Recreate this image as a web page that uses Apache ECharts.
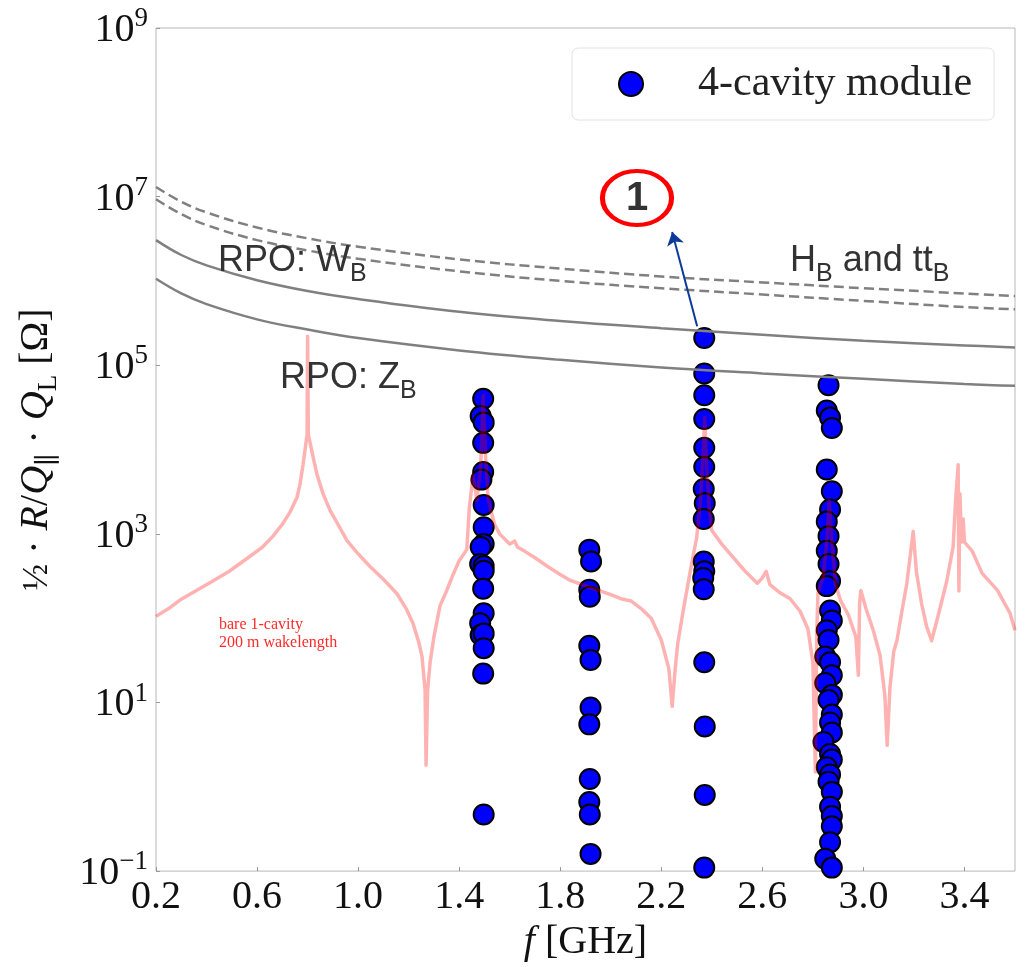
<!DOCTYPE html>
<html>
<head>
<meta charset="utf-8">
<script src="https://cdn.jsdelivr.net/npm/echarts@6/dist/echarts.min.js"></script>
<style>
  html, body { margin: 0; padding: 0; background: #ffffff; }
  #chart { width: 1025px; height: 967px; }
</style>
</head>
<body>
<div id="chart"></div>
<script>
// Axis ticks
const xTickValues = [0.2, 0.6, 1.0, 1.4, 1.8, 2.2, 2.6, 3.0, 3.4];
const yTickValues = [0.1, 10, 1e3, 1e5, 1e7, 1e9];

// 4-cavity module: HOM frequency [GHz] and 1/2 R/Q * Q_L [Ohm]
const modeFreq = [
  // ~1.5 GHz band
  1.495, 1.485, 1.497, 1.495, 1.495, 1.488, 1.497, 1.497, 1.497, 1.485, 1.483,
  1.497, 1.497, 1.495, 1.497, 1.483, 1.485, 1.497, 1.497, 1.495, 1.497,
  // ~1.92 GHz band
  1.915, 1.922, 1.915, 1.917, 1.915, 1.920, 1.920, 1.915, 1.917, 1.915, 1.917, 1.920,
  // ~2.37 GHz band
  2.370, 2.370, 2.370, 2.370, 2.370, 2.370, 2.368, 2.372, 2.368, 2.368, 2.370,
  2.366, 2.368, 2.370, 2.372, 2.372, 2.370,
  // ~2.86 GHz band
  2.862, 2.855, 2.868, 2.875, 2.855, 2.875, 2.868, 2.855, 2.862, 2.855, 2.862,
  2.868, 2.855, 2.868, 2.875, 2.855, 2.862, 2.849, 2.868, 2.875, 2.849, 2.875,
  2.862, 2.875, 2.868, 2.875, 2.842, 2.868, 2.875, 2.855, 2.868, 2.862, 2.875,
  2.868, 2.875, 2.875, 2.868, 2.849, 2.875
];
const modeImpedance = [
  4.0e4, 2.5e4, 2.1e4, 1.2e4, 5.4e3, 4.4e3, 2.2e3, 1.2e3, 760, 700, 440,
  415, 365, 224, 114, 87, 63, 66, 44, 22, 0.47,
  650, 470, 218, 180, 47, 32, 8.7, 5.5, 1.24, 0.66, 0.47, 0.16,
  2.1e5, 8.0e4, 4.4e4, 2.3e4, 1.05e4, 6.2e3, 3.4e3, 2.3e3, 1.5e3, 470, 360,
  300, 220, 30, 5.2, 0.8, 0.11,
  5.8e4, 2.9e4, 2.4e4, 1.8e4, 5.8e3, 3.2e3, 1.95e3, 1.4e3, 940, 630, 440,
  275, 240, 123, 94, 72, 55, 35, 30, 21, 17, 12.3,
  10.7, 7.2, 5.8, 4.4, 3.4, 2.45, 2.1, 1.7, 1.4, 1.15, 0.87,
  0.58, 0.45, 0.34, 0.22, 0.14, 0.11
];

// Bare 1-cavity impedance, 200 m wakelength
const wakeFreq = [
  0.20, 0.25, 0.30, 0.36, 0.42, 0.49, 0.56, 0.62, 0.663, 0.70, 0.73, 0.758, 0.77,
  0.782, 0.79, 0.798, 0.80, 0.803, 0.81, 0.822, 0.837, 0.861, 0.889, 0.92, 0.956,
  1.00, 1.047, 1.10, 1.154, 1.19, 1.217, 1.24, 1.253, 1.265, 1.269, 1.275, 1.285,
  1.30, 1.324, 1.35, 1.376, 1.40, 1.43, 1.44, 1.455, 1.47, 1.485, 1.495, 1.505,
  1.515, 1.54, 1.56, 1.58, 1.60, 1.62, 1.63, 1.66, 1.70, 1.75, 1.80, 1.84, 1.93,
  2.00, 2.04, 2.08, 2.12, 2.16, 2.20, 2.23, 2.243, 2.255, 2.265, 2.29, 2.32, 2.34,
  2.355, 2.365, 2.372, 2.38, 2.39, 2.40, 2.44, 2.47, 2.53, 2.58, 2.60, 2.615, 2.63,
  2.67, 2.71, 2.75, 2.78, 2.80, 2.81, 2.815, 2.82, 2.84, 2.855, 2.865, 2.875, 2.89,
  2.91, 2.94, 2.97, 2.98, 2.985, 2.99, 3.01, 3.04, 3.066, 3.085, 3.094, 3.105, 3.12,
  3.133, 3.15, 3.172, 3.197, 3.21, 3.23, 3.25, 3.27, 3.30, 3.33, 3.355, 3.365,
  3.375, 3.378, 3.382, 3.388, 3.395, 3.40, 3.43, 3.47, 3.53, 3.58, 3.60
];
const wakeImpedance = [
  105, 130, 168, 213, 270, 360, 510, 690, 940, 1300, 1800, 2700, 3900,
  6600, 1.0e4, 1.5e4, 2.2e5, 1.5e4, 1.2e4, 8100, 5100, 3000, 1900, 1300, 830,
  580, 410, 290, 195, 130, 87, 52, 35, 14, 1.8, 14, 30,
  60, 140, 210, 330, 480, 650, 2000, 5000, 2500, 6000, 4.4e4, 8000,
  2500, 1300, 1000, 870, 760, 820, 700, 620, 520, 410, 330, 280, 225,
  190, 170, 160, 130, 100, 55, 25, 9, 25, 50, 140, 440, 900,
  2500, 8000, 2.4e4, 6000, 2000, 1100, 750, 590, 365, 260, 300, 360, 250,
  200, 170, 120, 75, 30, 1.5, 60, 200, 300, 800, 2500, 800, 250,
  160, 110, 60, 21, 150, 213, 130, 70, 36, 12, 3.1, 15, 40,
  55, 110, 260, 1070, 350, 150, 80, 54, 120, 276, 700, 2500,
  6600, 210, 3000, 800, 1500, 800, 630, 340, 215, 115, 72
];

// Beam-stability thresholds (RPO) per operating mode
const thresholdFreq = [0.2, 0.3, 0.4, 0.6, 0.8, 1.0, 1.4, 1.8, 2.2, 2.6, 3.0, 3.4, 3.6];
const rpoW = [3.05e6, 2.03e6, 1.53e6, 1.02e6, 7.6e5, 6.1e5, 4.3e5, 3.35e5, 2.75e5, 2.3e5, 1.95e5, 1.72e5, 1.62e5];
const rpoZ = [1.06e6, 7.1e5, 5.3e5, 3.5e5, 2.65e5, 2.1e5, 1.5e5, 1.16e5, 9.4e4, 8.0e4, 6.9e4, 6.0e4, 5.7e4];
const rpoH = [1.3e7, 8.7e6, 6.5e6, 4.3e6, 3.2e6, 2.55e6, 1.8e6, 1.4e6, 1.13e6, 9.6e5, 8.2e5, 7.1e5, 6.6e5];
const rpoTT = [9.3e6, 6.2e6, 4.6e6, 3.05e6, 2.3e6, 1.83e6, 1.3e6, 1.0e6, 8.2e5, 6.9e5, 5.8e5, 4.9e5, 4.6e5];

const zip = (xs, ys) => xs.map((x, i) => [x, ys[i]]);

const SERIF = "'Liberation Serif', 'DejaVu Serif', serif";
const SANS = "'Liberation Sans', Arial, sans-serif";
const GREY = '#808080';

const chart = echarts.init(document.getElementById('chart'), null, { renderer: 'canvas' });

const thresholdLine = (name, values, dashed) => ({
  name: name,
  type: 'line',
  data: zip(thresholdFreq, values),
  smooth: 0.4,
  showSymbol: false,
  silent: true,
  z: 3,
  lineStyle: { color: GREY, width: 2.5, type: dashed ? [10, 5] : 'solid' }
});

// Subscripted annotation labels drawn in sans
const subRich = {
  a: { fontFamily: SANS, fontSize: 36, fill: '#333', padding: [0, 0, 8, 0], verticalAlign: 'bottom' },
  b: { fontFamily: SANS, fontSize: 25, fill: '#333', verticalAlign: 'bottom' }
};

chart.setOption({
  animation: false,
  backgroundColor: '#ffffff',
  grid: {
    left: 156, right: 10, top: 28, bottom: 87,
    show: true, borderColor: '#b8b8b8', borderWidth: 1, backgroundColor: 'transparent'
  },
  legend: {
    data: ['4-cavity module'],
    left: 572, top: 48,
    padding: [15, 22, 15, 46],
    itemWidth: 24, itemHeight: 24,
    icon: 'circle',
    backgroundColor: '#ffffff',
    borderColor: '#e2e2e2', borderWidth: 1, borderRadius: 6,
    textStyle: { fontFamily: SERIF, fontSize: 42, color: '#222', padding: [0, 0, 0, 50] }
  },
  xAxis: {
    type: 'value', min: 0.2, max: 3.6,
    name: '{i|f} [GHz]',
    nameLocation: 'middle', nameGap: 42,
    nameTextStyle: {
      fontFamily: SERIF, fontSize: 40, color: '#111',
      rich: { i: { fontFamily: SERIF, fontSize: 40, fontStyle: 'italic', color: '#111' } }
    },
    axisLine: { show: false },
    splitLine: { show: false },
    axisTick: { inside: true, length: 4, lineStyle: { color: '#999' }, customValues: xTickValues },
    axisLabel: {
      customValues: xTickValues, margin: 6,
      fontFamily: SERIF, fontSize: 40, color: '#111',
      formatter: v => v.toFixed(1)
    }
  },
  yAxis: {
    type: 'log', logBase: 10, min: 0.1, max: 1e9,
    name: '{f|½}{n| · }{i|R}{n|/}{i|Q}{s|∥}{n| · }{i|Q}{s|L}{n| [Ω]}',
    nameLocation: 'middle', nameRotate: 90, nameGap: 94,
    nameTextStyle: {
      color: '#111',
      rich: {
        f: { fontFamily: SERIF, fontSize: 36, color: '#111', padding: [0, 0, 6, 0], verticalAlign: 'bottom' },
        n: { fontFamily: SERIF, fontSize: 40, color: '#111', padding: [0, 0, 6, 0], verticalAlign: 'bottom' },
        i: { fontFamily: SERIF, fontSize: 40, fontStyle: 'italic', color: '#111', padding: [0, 0, 6, 0], verticalAlign: 'bottom' },
        s: { fontFamily: SERIF, fontSize: 27, color: '#111', verticalAlign: 'bottom' }
      }
    },
    axisLine: { show: false },
    splitLine: { show: false },
    minorTick: { show: false },
    axisTick: { inside: true, length: 4, lineStyle: { color: '#999' }, customValues: yTickValues },
    axisLabel: {
      customValues: yTickValues, margin: 8,
      formatter: v => {
        const e = Math.round(Math.log10(v));
        return '{b|10}{s|' + (e < 0 ? '\u2212' + (-e) : e) + '}';
      },
      rich: {
        b: { fontFamily: SERIF, fontSize: 40, color: '#111', verticalAlign: 'bottom' },
        s: { fontFamily: SERIF, fontSize: 27, color: '#111', padding: [0, 0, 18, 0], verticalAlign: 'bottom' }
      }
    }
  },
  series: [
    {
      name: '4-cavity module',
      type: 'scatter',
      data: zip(modeFreq, modeImpedance),
      symbol: 'circle',
      symbolSize: 20,
      z: 2,
      itemStyle: { color: '#0000ff', borderColor: '#000000', borderWidth: 2, opacity: 1 },
      markLine: {
        silent: true,
        symbol: ['none', 'arrow'],
        symbolSize: 13,
        label: { show: false },
        lineStyle: { color: '#0b3a98', width: 2, type: 'solid' },
        data: [[{ coord: [2.342, 2.9e5] }, { coord: [2.243, 3.8e6] }]]
      }
    },
    thresholdLine('RPO: W_B', rpoW, false),
    thresholdLine('RPO: Z_B', rpoZ, false),
    thresholdLine('H_B', rpoH, true),
    thresholdLine('tt_B', rpoTT, true),
    {
      name: 'bare 1-cavity',
      type: 'line',
      data: zip(wakeFreq, wakeImpedance),
      showSymbol: false,
      silent: true,
      z: 4,
      lineStyle: { color: 'rgba(255,0,0,0.3)', width: 3.5, join: 'round' }
    }
  ],
  graphic: [
    {
      type: 'text', left: 218, top: 243, z: 10, silent: true,
      style: { text: '{a|RPO: W}{b|B}', rich: subRich }
    },
    {
      type: 'text', left: 280, top: 360, z: 10, silent: true,
      style: { text: '{a|RPO: Z}{b|B}', rich: subRich }
    },
    {
      type: 'text', left: 790, top: 243, z: 10, silent: true,
      style: { text: '{a|H}{b|B}{a| and tt}{b|B}', rich: subRich }
    },
    {
      type: 'circle', x: 637, y: 198, scaleX: 1.28, z: 10, silent: true,
      shape: { cx: 0, cy: 0, r: 27 },
      style: { fill: 'none', stroke: '#ff0000', lineWidth: 4, strokeNoScale: true }
    },
    {
      type: 'text', x: 637, y: 199, z: 11, silent: true,
      style: {
        text: '1', fontFamily: SANS, fontSize: 40, fontWeight: 'bold', fill: '#333',
        align: 'center', verticalAlign: 'middle'
      }
    },
    {
      type: 'text', left: 219, top: 616, z: 10, silent: true,
      style: {
        text: 'bare 1-cavity\n200 m wakelength',
        fontFamily: SERIF, fontSize: 16, lineHeight: 18, fill: '#ff2a2a'
      }
    }
  ]
});
</script>
</body>
</html>
